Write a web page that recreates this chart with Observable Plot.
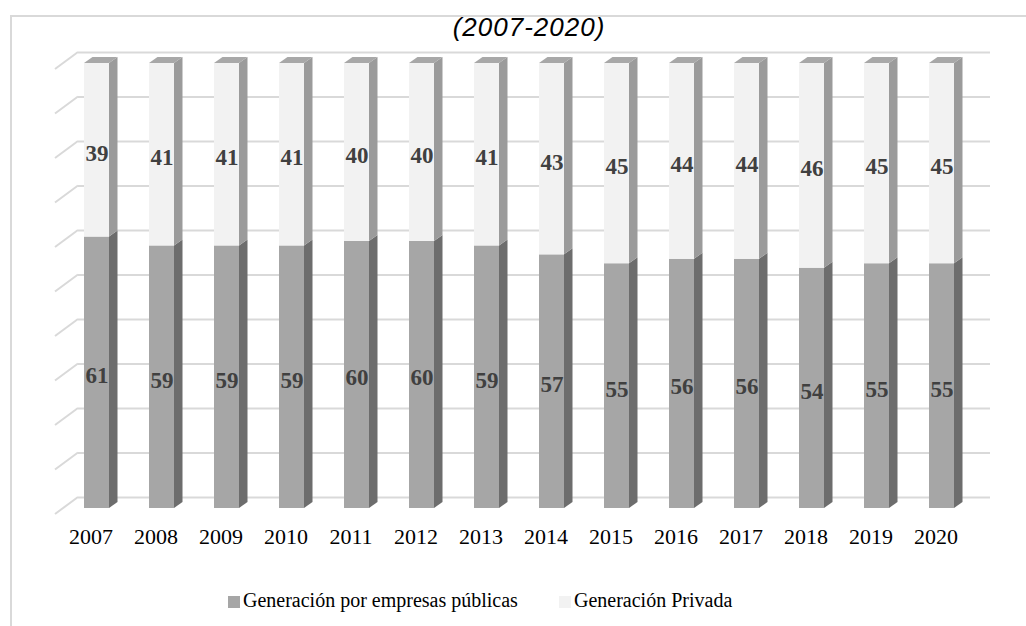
<!DOCTYPE html>
<html>
<head>
<meta charset="utf-8">
<script src="https://cdn.jsdelivr.net/npm/d3@7"></script>
<script src="https://cdn.jsdelivr.net/npm/@observablehq/plot@0.6"></script>
<style>
  body { margin: 0; background: #fff; width: 1026px; height: 626px; overflow: hidden; position: relative; font-family: "Liberation Serif", "Times New Roman", serif; }
  #chart { position: absolute; left: 0; top: 0; }
  #frame { position: absolute; left: 10px; top: 15px; width: 1100px; height: 700px; border-left: 2px solid #d9d9d9; border-top: 2px solid #d9d9d9; box-sizing: border-box; }
  #title { position: absolute; top: 14px; left: 0; width: 1058px; text-align: center; font: italic 26px/26px "Liberation Sans", Arial, sans-serif; letter-spacing: 1px; color: #000; }
  .leg { position: absolute; top: 590px; font: 20px/20px "Liberation Serif", "Times New Roman", serif; color: #000; white-space: nowrap; }
  .sw { display: inline-block; width: 12px; height: 12px; margin-right: 3px; vertical-align: -1px; }
</style>
</head>
<body>
<div id="chart"></div>
<div id="frame"></div>
<div id="title">(2007-2020)</div>
<div id="legend"></div>
<script>
const years = ["2007","2008","2009","2010","2011","2012","2013","2014","2015","2016","2017","2018","2019","2020"];
const publicas = [61,59,59,59,60,60,59,57,55,56,56,54,55,55];
const privada  = [39,41,41,41,40,40,41,43,45,44,44,46,45,45];
const series = ["Generación por empresas públicas", "Generación Privada"];
const gridTicks = [0,10,20,30,40,50,60,70,80,90,100];
const frontColors = ["#a6a6a6", "#f2f2f2"];
const sideColors = ["#6d6d6d", "#9b9b9b"];
const topColor = "#a8a8a8";
const gridColor = "#d9d9d9";

const rows = years.flatMap((yr, i) => [
  {year: yr, series: series[0], value: publicas[i]},
  {year: yr, series: series[1], value: privada[i]}
]);

// perspective offsets (pixels)
const BAR_DX = 8, BAR_DY = -6;     // bar front relative to front plane
const DEP_DX = 8.5, DEP_DY = -6;   // bar depth
const WALL_DX = 23, WALL_DY = -17; // back wall relative to front plane

function sideWall(index, {y}, values, dims) {
  const g = d3.create("svg:g");
  const x0 = dims.marginLeft;
  for (const t of gridTicks) {
    g.append("line")
      .attr("x1", x0).attr("y1", y(t))
      .attr("x2", x0 + WALL_DX).attr("y2", y(t) + WALL_DY)
      .attr("stroke", gridColor).attr("stroke-width", 2);
  }
  return g.node();
}

function depthFaces(index, {x, y}) {
  const g = d3.create("svg:g");
  const bw = x.bandwidth();
  years.forEach((yr, i) => {
    const xl = x(yr) + BAR_DX, xr = xl + bw;
    const segs = [[0, publicas[i]], [publicas[i], publicas[i] + privada[i]]];
    segs.forEach(([a, b], k) => {
      const yb = y(a) + BAR_DY, yt = y(b) + BAR_DY;
      g.append("path")
        .attr("d", `M${xr},${yt}L${xr + DEP_DX},${yt + DEP_DY}L${xr + DEP_DX},${yb + DEP_DY}L${xr},${yb}Z`)
        .attr("fill", sideColors[k]);
    });
    const yt = y(publicas[i] + privada[i]) + BAR_DY;
    g.append("path")
      .attr("d", `M${xl},${yt}L${xl + DEP_DX},${yt + DEP_DY}L${xr + DEP_DX},${yt + DEP_DY}L${xr},${yt}Z`)
      .attr("fill", topColor);
  });
  return g.node();
}

const chart = Plot.plot({
  width: 1026,
  height: 626,
  marginLeft: 55,
  marginRight: 59,
  marginTop: 69,
  marginBottom: 112,
  style: {fontFamily: "'Liberation Serif', 'Times New Roman', serif", background: "transparent", overflow: "visible"},
  x: {domain: years, paddingInner: 0.616, paddingOuter: 0.3, axis: null},
  y: {domain: [0, 100], axis: null},
  color: {domain: series, range: frontColors},
  marks: [
    Plot.ruleY(gridTicks, {stroke: gridColor, strokeWidth: 2, dx: WALL_DX, dy: WALL_DY}),
    sideWall,
    depthFaces,
    Plot.barY(rows, Plot.stackY({x: "year", y: "value", fill: "series", dx: BAR_DX, dy: BAR_DY})),
    Plot.text(rows, Plot.stackY({x: "year", y: "value", text: d => String(d.value),
      dx: BAR_DX, dy: -3, fontSize: 23, fontWeight: "bold", fill: "#404040"})),
    Plot.text(years, {x: d => d, frameAnchor: "bottom", dy: 29, dx: 2, fontSize: 22, fill: "#000"})
  ]
});
document.getElementById("chart").append(chart);

const legend = document.getElementById("legend");
const legLeft = [228, 559];
series.forEach((s, k) => {
  const item = document.createElement("div");
  item.className = "leg";
  item.style.left = legLeft[k] + "px";
  const sw = document.createElement("span");
  sw.className = "sw";
  sw.style.background = frontColors[k];
  item.append(sw, document.createTextNode(s));
  legend.append(item);
});
</script>
</body>
</html>
